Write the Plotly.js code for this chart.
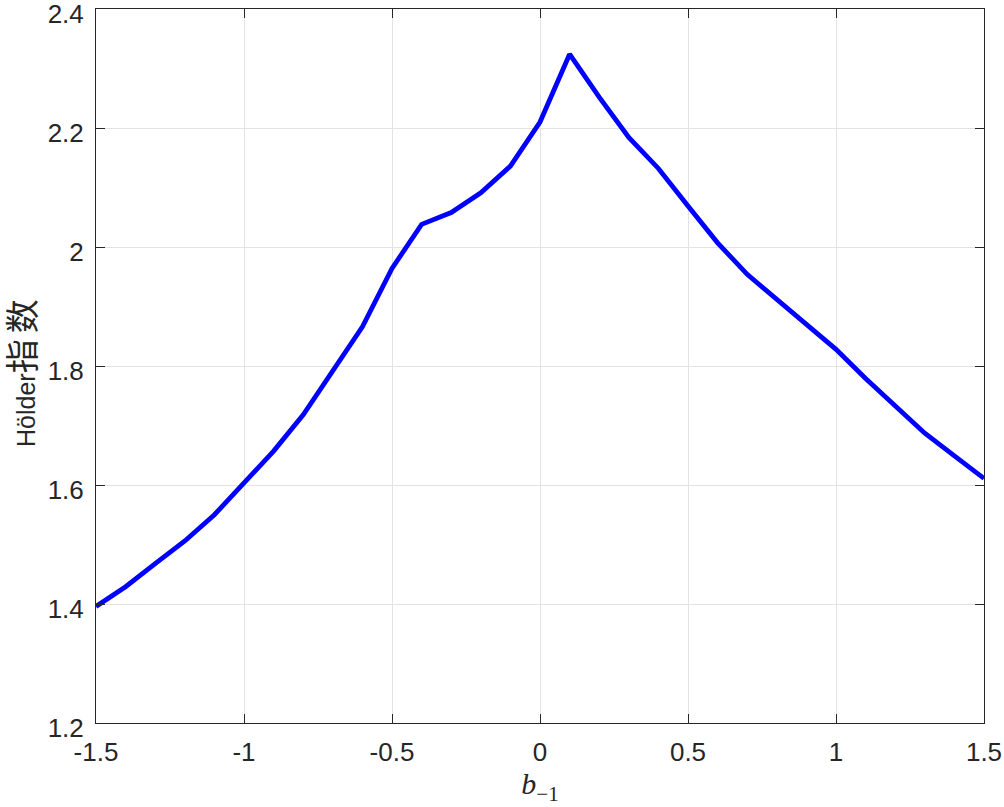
<!DOCTYPE html>
<html>
<head>
<meta charset="utf-8">
<script src="https://cdn.plot.ly/plotly-3.0.1.min.js"></script>
<style>html,body{margin:0;padding:0;background:#fff;}#chart{width:1004px;height:807px;}</style>
</head>
<body>
<div id="chart"></div>
<script>
const bValues = [-1.5,-1.4,-1.3,-1.2,-1.1,-1.0,-0.9,-0.8,-0.7,-0.6,-0.5,-0.4,-0.3,-0.2,-0.1,0.0,0.1,0.2,0.3,0.4,0.5,0.6,0.7,0.8,0.9,1.0,1.1,1.2,1.3,1.4,1.5];
const holderValues = [1.396,1.429,1.468,1.506,1.550,1.603,1.657,1.718,1.793,1.866,1.964,2.038,2.058,2.091,2.136,2.210,2.324,2.252,2.184,2.132,2.069,2.007,1.954,1.912,1.871,1.828,1.779,1.733,1.687,1.649,1.611];
const xTickVals = [-1.5,-1,-0.5,0,0.5,1,1.5];
const xTickText = ['-1.5','-1','-0.5','0','0.5','1','1.5'];
const yTickVals = [1.2,1.4,1.6,1.8,2.0,2.2,2.4];
const yTickText = ['1.2','1.4','1.6','1.8','2','2.2','2.4'];
const yTitle = 'Hölder<span style="font-family:Noto Sans CJK SC;font-size:34px;letter-spacing:6px">指数</span>';

const trace = {
  x: bValues, y: holderValues, type: 'scatter', mode: 'lines',
  line: {color: '#0000FF', width: 4.8}, hoverinfo: 'none'
};
const axisCommon = {
  showline: true, mirror: 'ticks', linecolor: '#262626', linewidth: 1,
  ticks: 'inside', ticklen: 9, tickcolor: '#262626', tickwidth: 1,
  showgrid: true, gridcolor: '#e3e3e3', gridwidth: 1, zeroline: false,
  ticklabeloverflow: 'allow',
  tickfont: {family: 'Liberation Sans, Arial, sans-serif', size: 26, color: '#262626'}
};
const layout = {
  width: 1004, height: 807,
  margin: {l: 96, r: 20, t: 9, b: 84},
  paper_bgcolor: '#fff', plot_bgcolor: '#fff',
  showlegend: false,
  xaxis: Object.assign({}, axisCommon, {
    range: [-1.5, 1.5], tickmode: 'array', tickvals: xTickVals, ticktext: xTickText,
    ticklabelstandoff: 6,
    title: {text: '<i>b</i><sub>−1</sub>', font: {family: 'Liberation Serif, Times New Roman, serif', size: 30, color: '#262626'}, standoff: 6}
  }),
  yaxis: Object.assign({}, axisCommon, {
    range: [1.2, 2.4], tickmode: 'array', tickvals: yTickVals, ticktext: yTickText,
    ticklabelstandoff: 6, ticklabelshift: 5
  }),
  annotations: [{
    text: yTitle, textangle: -90, showarrow: false,
    xref: 'paper', yref: 'paper', x: 0, y: 0.5, xanchor: 'center', yanchor: 'middle',
    xshift: -76, yshift: -4,
    font: {family: 'Liberation Sans, Arial, sans-serif', size: 25, color: '#262626'}
  }]
};
Plotly.newPlot('chart', [trace], layout, {staticPlot: true, displayModeBar: false});
</script>
</body>
</html>
